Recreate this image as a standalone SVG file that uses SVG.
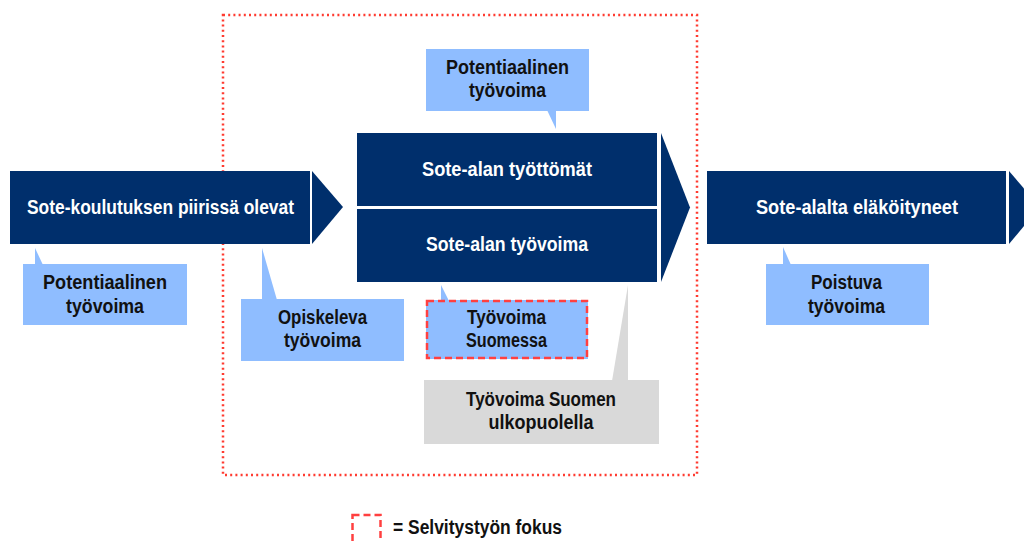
<svg xmlns="http://www.w3.org/2000/svg" width="1024" height="541" viewBox="0 0 1024 541">
  <style>
    .bar { fill: #002f6c; }
    .callout { fill: #8fbdff; }
    .outside { fill: #d9d9d9; }
    .focus { fill: none; stroke: #ff4040; stroke-width: 2.5; stroke-dasharray: 7 4; }
    .frame { fill: none; stroke: #ff3b30; stroke-width: 2.5; stroke-dasharray: 2 3.2; }
    text { font-family: "Liberation Sans", Arial, sans-serif; font-weight: bold; text-anchor: middle; }
    .wt { fill: #ffffff; font-size: 20px; }
    .bt { fill: #111111; font-size: 20px; }
  </style>

  <rect width="1024" height="541" fill="#ffffff"/>

  <!-- scope frame -->
  <rect id="scope-frame" class="frame" x="223" y="15" width="474" height="460"/>

  <!-- callout tails -->
  <g id="connectors">
    <polygon class="callout" points="35,248 35,265 43,265"/>
    <polygon class="callout" points="262,248 262,300 277,300"/>
    <polygon class="callout" points="547,110 556,110 556,129"/>
    <polygon class="callout" points="441,285 441,301 449,301"/>
    <polygon class="outside" points="628,285 628,381 612,381"/>
    <polygon class="callout" points="783,247 783,265 791,265"/>
  </g>

  <g id="students">
    <rect class="bar" x="10" y="171" width="300" height="73"/>
    <polygon class="bar" points="312,171 343,207 312,244"/>
    <text class="wt" x="160.5" y="214" textLength="267" lengthAdjust="spacingAndGlyphs">Sote-koulutuksen piirissä olevat</text>
  </g>

  <g id="sector">
    <rect class="bar" x="357" y="133" width="300" height="73"/>
    <rect class="bar" x="357" y="209" width="300" height="73"/>
    <polygon class="bar" points="661,133 690,207.5 661,282"/>
    <text class="wt" x="507" y="176" textLength="170" lengthAdjust="spacingAndGlyphs">Sote-alan työttömät</text>
    <text class="wt" x="507" y="251" textLength="162" lengthAdjust="spacingAndGlyphs">Sote-alan työvoima</text>
  </g>

  <g id="retired">
    <rect class="bar" x="707" y="171" width="299" height="73"/>
    <polygon class="bar" points="1009,171 1040,207 1009,244"/>
    <text class="wt" x="857" y="214" textLength="202" lengthAdjust="spacingAndGlyphs">Sote-alalta eläköityneet</text>
  </g>

  <g id="potential-left">
    <rect class="callout" x="23" y="264" width="164" height="61"/>
    <text class="bt" x="105" y="289" textLength="124" lengthAdjust="spacingAndGlyphs">Potentiaalinen</text>
    <text class="bt" x="105" y="313" textLength="78" lengthAdjust="spacingAndGlyphs">työvoima</text>
  </g>

  <g id="studying">
    <rect class="callout" x="241" y="299" width="163" height="62"/>
    <text class="bt" x="322.5" y="324" textLength="89" lengthAdjust="spacingAndGlyphs">Opiskeleva</text>
    <text class="bt" x="322.5" y="347" textLength="77" lengthAdjust="spacingAndGlyphs">työvoima</text>
  </g>

  <g id="potential-top">
    <rect class="callout" x="426" y="49" width="163" height="62"/>
    <text class="bt" x="507.5" y="74" textLength="123" lengthAdjust="spacingAndGlyphs">Potentiaalinen</text>
    <text class="bt" x="507.5" y="97" textLength="77" lengthAdjust="spacingAndGlyphs">työvoima</text>
  </g>

  <g id="in-finland">
    <rect class="callout" x="426" y="300" width="162" height="59"/>
    <rect class="focus" x="427" y="301" width="160" height="57"/>
    <text class="bt" x="506.5" y="324" textLength="79" lengthAdjust="spacingAndGlyphs">Työvoima</text>
    <text class="bt" x="506.5" y="347" textLength="81" lengthAdjust="spacingAndGlyphs">Suomessa</text>
  </g>

  <g id="abroad">
    <rect class="outside" x="424" y="380" width="235" height="64"/>
    <text class="bt" x="541" y="406" textLength="150" lengthAdjust="spacingAndGlyphs">Työvoima Suomen</text>
    <text class="bt" x="541" y="429" textLength="105" lengthAdjust="spacingAndGlyphs">ulkopuolella</text>
  </g>

  <g id="leaving">
    <rect class="callout" x="766" y="264" width="163" height="61"/>
    <text class="bt" x="846.5" y="289" textLength="71" lengthAdjust="spacingAndGlyphs">Poistuva</text>
    <text class="bt" x="846.5" y="313" textLength="77" lengthAdjust="spacingAndGlyphs">työvoima</text>
  </g>

  <g id="legend">
    <rect class="focus" x="352.5" y="515" width="28" height="40"/>
    <text class="bt" x="477.5" y="534" textLength="169" lengthAdjust="spacingAndGlyphs">= Selvitystyön fokus</text>
  </g>
</svg>
